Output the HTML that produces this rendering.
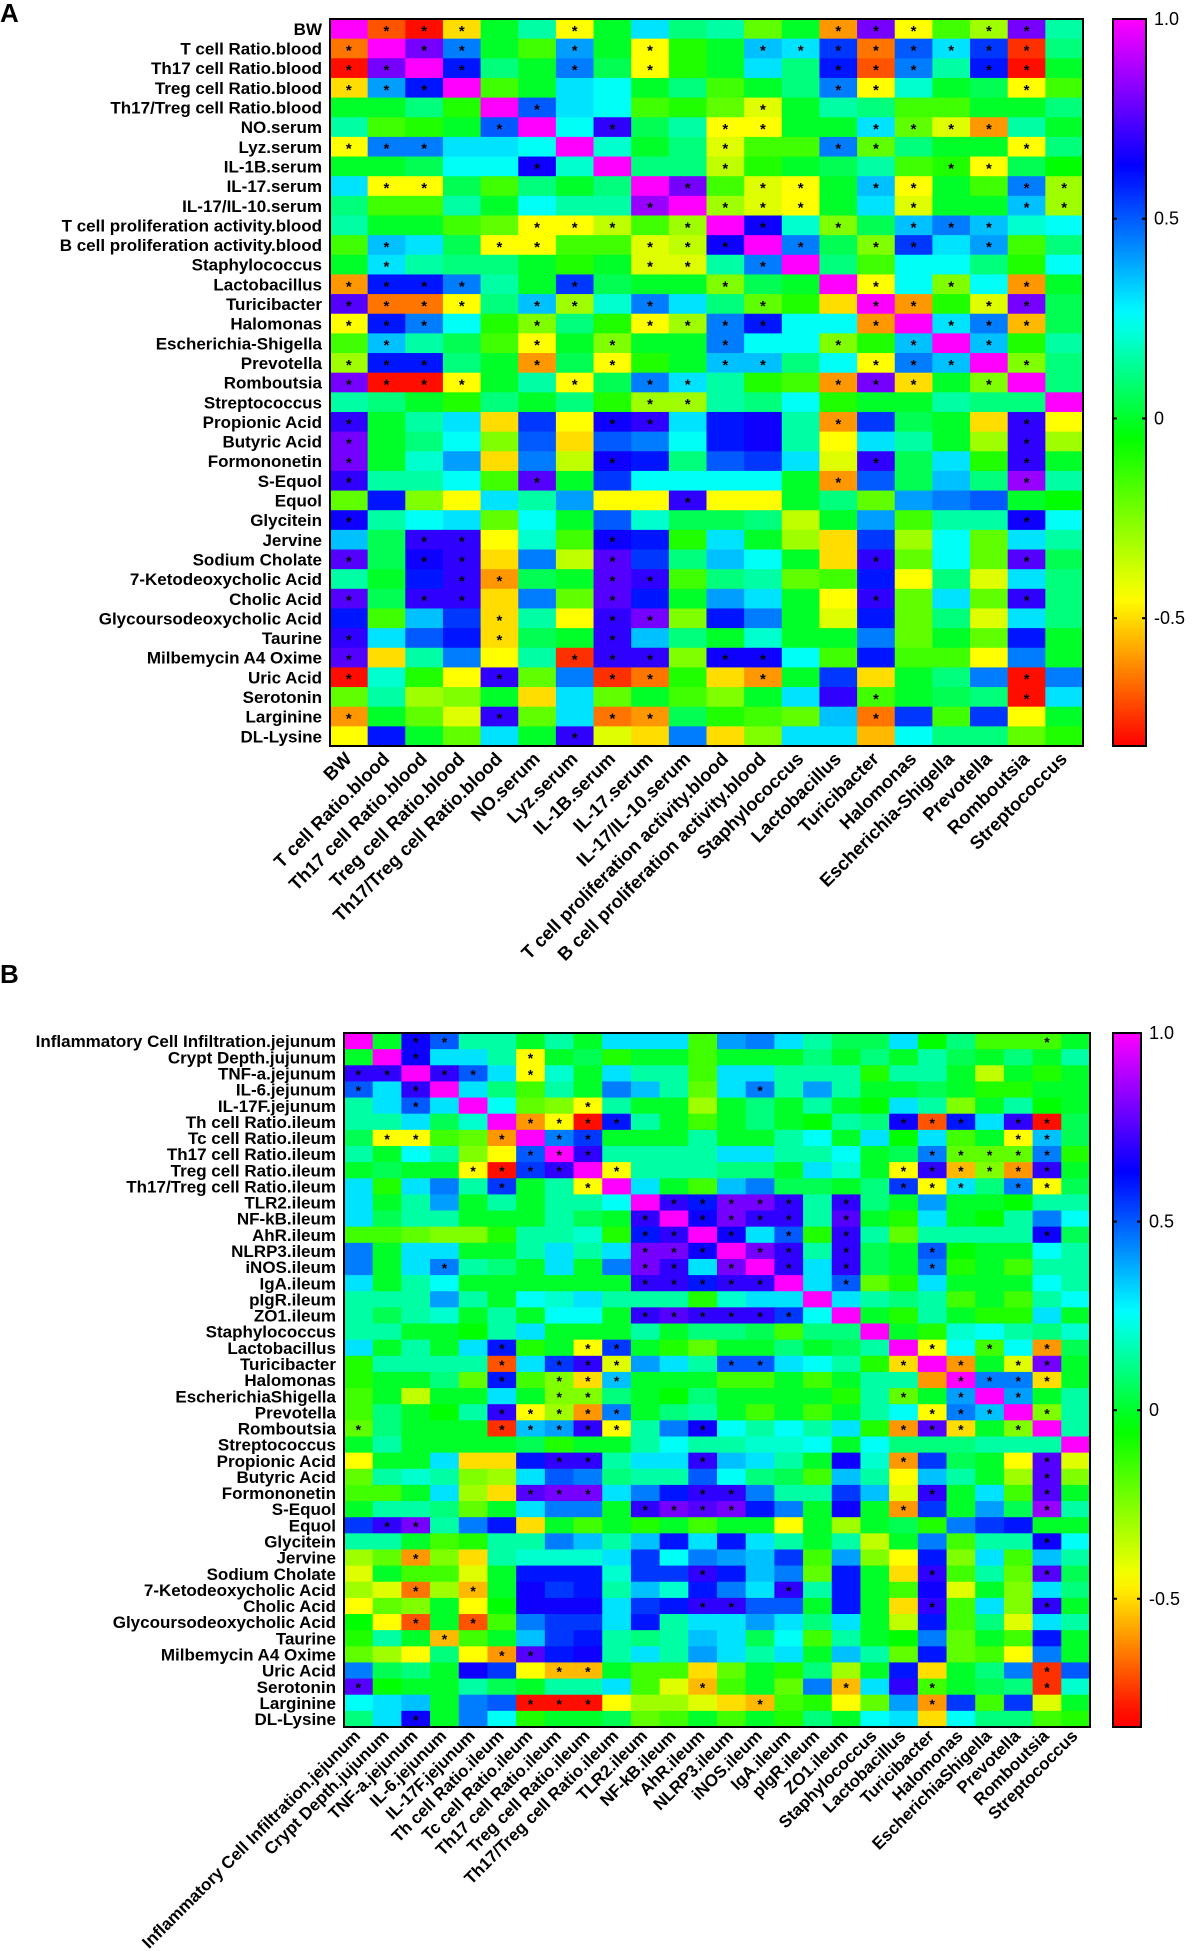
<!DOCTYPE html>
<html><head><meta charset="utf-8"><style>
html,body{margin:0;padding:0;background:#fff;}
svg{display:block;font-family:"Liberation Sans",Arial,sans-serif;}
</style></head><body>
<svg id="fig" width="1202" height="1951" viewBox="0 0 1202 1951" xmlns="http://www.w3.org/2000/svg">
<text x="0" y="22" font-size="26" font-weight="bold">A</text>
<text x="0" y="983" font-size="26" font-weight="bold">B</text>
<g id="ga"></g>
<g id="gb"></g>
</svg>
<script>
// ===== Panel A data =====
const rowsA = ["BW","T cell Ratio.blood","Th17 cell Ratio.blood","Treg cell Ratio.blood","Th17/Treg cell Ratio.blood","NO.serum","Lyz.serum","IL-1B.serum","IL-17.serum","IL-17/IL-10.serum","T cell proliferation activity.blood","B cell proliferation activity.blood","Staphylococcus","Lactobacillus","Turicibacter","Halomonas","Escherichia-Shigella","Prevotella","Romboutsia","Streptococcus","Propionic Acid","Butyric Acid","Formononetin","S-Equol","Equol","Glycitein","Jervine","Sodium Cholate","7-Ketodeoxycholic Acid","Cholic Acid","Glycoursodeoxycholic Acid","Taurine","Milbemycin A4 Oxime","Uric Acid","Serotonin","Larginine","DL-Lysine"];
const colsA = ["BW","T cell Ratio.blood","Th17 cell Ratio.blood","Treg cell Ratio.blood","Th17/Treg cell Ratio.blood","NO.serum","Lyz.serum","IL-1B.serum","IL-17.serum","IL-17/IL-10.serum","T cell proliferation activity.blood","B cell proliferation activity.blood","Staphylococcus","Lactobacillus","Turicibacter","Halomonas","Escherichia-Shigella","Prevotella","Romboutsia","Streptococcus"];
const valuesA = [
[1,-.7,-.8,-.5,0,.15,-.45,0,.3,.1,.15,-.2,0,-.6,.8,-.45,-.15,-.3,.8,.15],
[-.65,1,.8,.45,0,-.15,.4,0,-.45,-.1,0,.35,.3,.55,-.65,.5,.3,.55,-.75,.1],
[-.8,.8,1,.6,.1,0,.45,.05,-.45,-.1,0,.3,.1,.6,-.7,.45,.15,.6,-.8,0],
[-.5,.4,.6,1,-.15,0,.3,.25,0,.1,-.15,0,.1,.45,-.45,.2,0,.05,-.45,-.15],
[0,0,.1,-.1,1,.5,.3,.25,-.15,-.1,-.2,-.4,0,.15,.1,-.15,-.15,0,0,.1],
[.15,-.15,-.1,0,.5,1,.25,.7,.05,.15,-.45,-.45,0,0,.3,-.2,-.4,-.6,.15,0],
[-.45,.45,.45,.3,.3,.25,1,.2,0,.1,-.4,-.15,-.15,.45,-.2,.1,0,0,-.45,.1],
[0,0,.05,.25,.25,.65,.2,1,.1,.1,-.35,-.1,0,.05,.15,-.15,-.1,-.45,.05,-.05],
[.3,-.45,-.45,.05,-.15,.1,0,.1,1,.8,-.15,-.4,-.45,0,.35,-.45,0,-.15,.45,-.3],
[.1,-.15,-.15,.15,0,.25,.15,.15,.85,1,-.3,-.4,-.45,0,.3,-.4,0,0,.35,-.3],
[.15,0,0,-.15,-.2,-.45,-.45,-.35,-.15,-.3,1,.65,.2,-.25,.05,.35,.45,.35,.2,.25],
[-.15,.35,.3,.05,-.45,-.45,-.15,-.15,-.4,-.35,.65,1,.45,.05,-.25,.55,.3,.4,-.15,.1],
[0,.3,.15,.1,.1,0,-.1,0,-.4,-.4,.15,.45,1,.1,-.15,.25,.25,.1,-.1,.25],
[-.6,.6,.6,.45,.15,0,.55,.05,0,0,-.25,.05,0,1,-.45,.25,-.25,.25,-.6,0],
[.75,-.65,-.65,-.45,.1,.35,-.3,.2,.45,.3,.1,-.2,-.1,-.5,1,-.6,-.1,-.4,.8,.05],
[-.45,.6,.45,.25,-.1,-.25,.1,-.1,-.45,-.3,.45,.6,.25,.25,-.6,1,.3,.45,-.55,.05],
[-.15,.35,.15,.05,-.15,-.45,0,-.25,0,0,.45,.25,.25,-.25,-.1,.35,1,.35,-.1,.15],
[-.3,.6,.6,.1,0,-.6,.05,-.45,-.1,0,.35,.35,.1,.25,-.45,.45,.35,1,-.25,.1],
[.8,-.8,-.8,-.45,0,.15,-.45,.05,.45,.3,.15,-.1,-.15,-.6,.8,-.5,0,-.25,1,.1],
[.15,.1,0,-.1,.1,0,.1,-.1,-.3,-.3,.15,.1,.25,-.1,0,0,.15,.1,.1,1],
[.7,0,.15,.3,-.5,.55,-.45,.65,.7,.3,.6,.65,.15,-.6,.55,.05,0,-.5,.7,-.45],
[.8,0,.1,.25,-.25,.5,-.5,.5,.45,.25,.6,.65,.15,-.45,.3,.15,0,-.3,.7,-.3],
[.8,0,.2,.4,-.5,.45,-.35,.65,.6,.1,.5,.55,.3,-.4,.7,.05,.3,-.1,.7,0],
[.7,.15,.15,.25,-.15,.75,0,.55,.25,.25,.25,.25,0,-.6,.5,.05,.35,.1,.85,.15],
[-.2,.6,-.25,-.45,.3,.15,.4,-.45,-.45,.7,-.45,-.45,0,.1,-.2,.4,.45,.5,0,-.05],
[.65,.15,.25,.3,-.2,.25,0,.5,.2,.05,.05,.1,-.35,0,.4,-.15,.15,.15,.65,.25],
[.35,.05,.7,.7,-.45,.2,-.15,.65,.6,-.1,.3,0,-.3,-.5,.55,-.3,.25,-.2,.3,.15],
[.75,.05,.65,.7,-.5,.45,-.35,.75,.55,.1,.35,.25,0,-.5,.7,-.2,.25,-.2,.75,.05],
[.15,0,.6,.7,-.6,.05,0,.75,.7,-.15,.1,.15,-.2,-.15,.6,-.45,.1,-.4,.3,.1],
[.75,.05,.7,.7,-.5,.45,-.2,.75,.6,0,.4,.3,0,-.45,.7,-.2,.3,-.2,.7,.1],
[.6,-.15,.35,.55,-.5,.15,-.45,.7,.8,-.25,.6,.45,0,-.4,.6,-.2,.1,-.4,.3,.1],
[.7,.3,.5,.6,-.5,.05,0,.7,.35,.1,0,.2,0,0,.45,-.2,0,-.2,.6,0],
[.75,-.5,.15,.45,-.45,.15,-.75,.7,.7,-.25,.65,.65,.25,-.15,.6,-.15,-.15,-.45,.45,0],
[-.8,.2,-.1,-.45,.7,-.2,.45,-.75,-.65,-.1,-.5,-.6,0,.55,-.5,0,.1,.45,-.8,.45],
[-.2,.15,-.3,-.25,0,-.5,.3,-.2,0,-.15,-.25,0,.3,.7,-.15,0,.05,.1,-.8,.3],
[-.6,0,-.2,-.4,.7,-.2,.3,-.65,-.6,.05,-.1,-.15,-.2,.35,-.65,.55,-.15,.55,-.45,0],
[-.45,.6,0,-.2,.3,0,.7,-.4,-.5,.45,-.5,-.25,.3,.3,-.55,.25,.1,.1,-.2,-.1]
];
const starsA = [[1,2,3,6,13,14,15,17,18],[0,2,3,6,8,11,12,13,14,15,16,17,18],[0,1,3,6,8,13,14,15,17,18],[0,1,2,13,14,18],[5,11],[4,7,10,11,14,15,16,17],[0,1,2,10,13,14,18],[5,10,16,17],[1,2,9,11,12,14,15,18,19],[8,10,11,12,15,18,19],[5,6,7,9,11,13,15,16,17],[1,4,5,8,9,10,12,14,15,17],[1,8,9,11],[0,1,2,3,6,10,14,16,18],[0,1,2,3,5,6,8,11,14,15,17,18],[0,1,2,5,8,9,10,11,14,16,17,18],[1,5,7,10,13,15,17],[0,1,2,5,7,10,11,14,15,16,18],[0,1,2,3,6,8,9,13,14,15,17],[8,9],[0,7,8,13,18],[0,18],[0,7,14,18],[0,5,13,18],[9],[0,18],[2,3,7],[0,2,3,7,14,18],[3,4,7,8],[0,2,3,7,14,18],[4,7,8],[0,4,7],[0,6,7,8,10,11],[0,4,7,8,11,18],[14,18],[0,4,7,8,14],[6]];
const ticksA = [1.0,0.5,0,-0.5];
const tickLabelsA = ["1.0","0.5","0","-0.5"];

// ===== Panel B data =====
const rowsB = ["Inflammatory Cell Infiltration.jejunum","Crypt Depth.jujunum","TNF-a.jejunum","IL-6.jejunum","IL-17F.jejunum","Th cell Ratio.ileum","Tc cell Ratio.ileum","Th17 cell Ratio.ileum","Treg cell Ratio.ileum","Th17/Treg cell Ratio.ileum","TLR2.ileum","NF-kB.ileum","AhR.ileum","NLRP3.ileum","iNOS.ileum","IgA.ileum","pIgR.ileum","ZO1.ileum","Staphylococcus","Lactobacillus","Turicibacter","Halomonas","EscherichiaShigella","Prevotella","Romboutsia","Streptococcus","Propionic Acid","Butyric Acid","Formononetin","S-Equol","Equol","Glycitein","Jervine","Sodium Cholate","7-Ketodeoxycholic Acid","Cholic Acid","Glycoursodeoxycholic Acid","Taurine","Milbemycin A4 Oxime","Uric Acid","Serotonin","Larginine","DL-Lysine"];
const colsB = ["Inflammatory Cell Infiltration.jejunum","Crypt Depth.jujunum","TNF-a.jejunum","IL-6.jejunum","IL-17F.jejunum","Th cell Ratio.ileum","Tc cell Ratio.ileum","Th17 cell Ratio.ileum","Treg cell Ratio.ileum","Th17/Treg cell Ratio.ileum","TLR2.ileum","NF-kB.ileum","AhR.ileum","NLRP3.ileum","iNOS.ileum","IgA.ileum","pIgR.ileum","ZO1.ileum","Staphylococcus","Lactobacillus","Turicibacter","Halomonas","EscherichiaShigella","Prevotella","Romboutsia","Streptococcus"];
const valuesB = [
[1,0,.65,.5,.15,.15,0,.15,0,.3,.3,.3,-.15,.4,.45,.3,.15,.05,.05,.3,-.05,.1,-.15,-.15,-.15,0],
[0,1,.65,.3,.3,.15,-.45,0,.05,-.1,0,0,-.15,0,0,0,.1,0,.1,0,.15,.05,0,.1,0,.15],
[.7,.7,1,.7,.5,.3,-.45,.2,0,.3,.15,.15,-.15,.3,.3,.15,.15,.15,-.1,.15,.15,0,-.35,0,-.1,0],
[.5,.3,.7,1,.3,.1,-.15,.15,0,.45,.35,.15,-.2,.3,.45,.15,.4,.15,0,0,.05,0,-.1,-.1,0,0],
[.15,.3,.5,.3,1,.25,-.2,-.25,-.45,.15,0,0,-.3,0,.1,0,.15,0,-.05,.3,.15,-.25,0,.15,-.05,0],
[.15,.15,.3,.05,.2,1,-.6,-.45,-.8,.6,.15,0,-.15,0,.1,0,-.05,.15,.1,.65,-.7,.6,.3,.7,-.8,.05],
[.05,-.45,-.45,-.15,-.2,-.6,1,.45,.55,0,0,0,.15,0,0,.15,.25,0,.3,-.05,.3,-.15,0,-.45,.35,.05],
[.15,0,.25,.15,-.25,-.45,.5,1,.7,.15,.15,.15,.15,.3,.3,.15,.15,.25,0,.05,.45,-.2,-.2,-.2,.45,-.1],
[0,.05,0,0,-.45,-.8,.55,.7,1,-.45,.15,.15,.15,.1,.1,0,.3,.2,0,-.45,.7,-.55,-.25,-.6,.7,0],
[.3,-.1,.3,.45,.15,.55,0,.15,-.45,1,.3,0,-.15,.35,.45,.05,.05,0,.1,.55,-.45,.3,.1,.45,-.45,.05],
[.3,0,.15,.4,0,.15,0,.15,.15,.25,1,.7,.6,.8,.8,.7,.15,.7,.1,0,.4,0,0,-.05,.15,.15],
[.3,.05,.15,.15,0,0,0,.15,.05,0,.7,1,.65,.8,.7,.7,.15,.75,0,-.1,.3,0,-.05,.15,.45,.25],
[-.15,-.15,-.2,-.25,-.25,-.1,.15,.15,.2,-.1,.6,.7,1,.65,.3,.5,-.1,.7,.15,-.2,.15,.15,.15,.15,.65,.05],
[.45,0,.3,.3,0,0,.15,.3,.15,.3,.8,.8,.65,1,.8,.7,.15,.7,.05,0,.5,-.05,0,0,.25,.15],
[.45,0,.3,.45,.15,.1,0,.3,0,.45,.8,.7,.3,.8,1,.7,.3,.7,.05,0,.45,-.1,0,-.15,.15,.15],
[.3,0,.15,.25,0,0,0,0,0,0,.7,.7,.6,.7,.7,1,.3,.5,-.2,-.1,.3,0,0,0,.25,.15],
[.15,.15,.15,.4,.15,0,.25,.2,.3,.15,.15,.15,-.1,.2,.3,.3,1,.3,.15,.1,.15,-.15,0,-.15,.15,.25],
[.15,.05,.15,.2,0,.15,0,.25,.25,0,.7,.75,.7,.7,.7,.55,.25,1,0,-.1,.15,0,-.1,-.1,.3,0],
[.15,.15,0,0,-.05,.15,.3,0,0,0,.15,0,.1,.1,.05,-.15,.1,.1,1,0,-.1,.2,.25,.15,.1,.2],
[.3,0,.15,0,.3,.6,-.1,0,-.45,.55,0,-.1,-.2,0,0,.1,0,.05,.15,1,-.45,.25,-.15,.25,-.6,.05],
[-.1,.15,.15,.15,.15,-.7,.3,.55,.7,-.4,.4,.3,.15,.5,.5,.3,.25,.15,-.1,-.5,1,-.6,0,-.4,.8,0],
[-.1,0,0,.1,-.2,.6,-.15,-.25,-.5,.35,0,0,0,-.15,-.15,0,-.15,0,.15,.15,-.6,1,.45,.45,-.5,0],
[-.15,0,-.35,0,0,.3,0,-.25,-.25,.1,0,-.05,.1,0,0,0,0,-.1,.15,-.2,0,.4,1,.4,0,.15],
[-.15,.1,0,-.05,.15,.7,-.45,-.3,-.6,.45,0,.1,.15,0,-.15,0,-.15,0,.15,.25,-.45,.45,.35,1,-.25,.15],
[-.2,.1,0,0,0,-.75,.35,.4,.7,-.45,.15,.45,.65,.25,.15,.25,.15,.3,-.1,-.6,.75,-.5,0,-.25,1,.15],
[0,.15,0,0,0,0,.05,-.1,0,0,.15,.25,.15,.15,.2,.2,.25,0,.25,.1,.1,.1,.15,.15,.15,1],
[-.45,0,0,.3,-.5,-.5,.6,.7,.7,.15,.3,.3,.7,.35,.3,.15,0,.65,.2,-.6,.55,.05,0,-.45,.75,-.4],
[-.2,.15,.2,.15,-.25,-.3,.3,.5,.45,.1,.15,.15,.5,.25,.1,.05,-.15,.35,.15,-.45,.35,.15,0,-.3,.75,-.25],
[-.15,-.15,0,.3,-.3,-.5,.75,.8,.8,.3,.45,.6,.7,.7,.45,.15,.15,.55,.35,-.4,.7,0,.3,-.15,.75,0],
[0,.15,.15,.1,-.2,0,.3,.45,.45,0,.7,.8,.75,.8,.6,.45,0,.65,0,-.6,.55,0,.4,.05,.85,.15],
[.55,.7,.8,.15,.45,.6,-.5,0,-.15,0,-.1,0,-.15,0,0,-.45,0,-.3,0,.05,-.1,.45,.55,.6,0,0],
[.15,.15,0,-.15,-.1,.15,.15,.45,.35,.15,.35,.6,.3,.6,.3,.15,0,.15,-.35,0,.45,-.15,.15,.15,.65,.25],
[-.3,-.2,-.6,-.25,-.5,.15,.2,.2,.2,.3,.55,.25,.45,.4,.35,.55,-.15,.4,-.25,-.45,.6,-.25,.3,-.15,.35,.15],
[-.4,0,-.15,-.15,-.4,0,.6,.6,.6,.2,.55,.55,.7,.6,.35,.45,-.2,.6,0,-.5,.7,-.15,.15,-.2,.75,.05],
[-.3,-.4,-.65,-.3,-.55,0,.65,.55,.6,.15,.35,.2,.6,.45,.3,.7,.15,.6,0,-.15,.65,-.4,0,-.25,.3,.1],
[-.45,-.2,-.25,0,-.45,-.05,.65,.65,.65,.3,.55,.6,.7,.7,.5,.5,0,.6,0,-.5,.7,-.15,.3,-.25,.7,0],
[-.05,-.45,-.7,0,-.7,-.15,.45,.55,.55,.3,.6,.15,.3,.3,.4,.3,.1,.3,0,-.35,.6,-.15,.1,-.4,.3,.15],
[-.1,.15,0,-.55,-.15,0,.35,.55,.6,.15,.1,.15,.35,.3,.05,.25,-.15,.15,0,-.05,.45,-.2,0,-.15,.6,0],
[-.2,-.3,-.45,.1,-.45,-.6,.75,.6,.65,.15,.3,.15,.4,.3,.15,.3,0,.35,.15,-.2,.6,-.2,-.15,-.45,.45,0],
[.45,.05,.1,0,.65,.55,-.45,-.55,-.55,0,-.15,-.15,-.5,-.2,0,-.1,.1,-.3,0,.6,-.5,0,.1,.45,-.75,.5],
[.75,-.05,0,0,.15,.05,0,.15,.15,.3,-.15,-.4,-.55,-.15,0,-.2,.45,-.55,.3,.7,-.15,0,.05,.1,-.75,.2],
[.25,.3,.35,0,.45,.5,-.8,-.8,-.8,-.45,-.3,-.3,-.4,-.5,-.55,-.15,-.1,-.45,-.2,.4,-.6,.55,-.15,.55,-.4,0],
[.1,.3,.65,0,.45,.25,-.1,0,0,.05,-.2,-.15,0,-.15,0,-.1,.1,0,.25,.3,-.5,.25,.1,.1,-.15,-.1]
];
const starsB = [[2,3,24],[2,6],[0,1,3,4,6],[0,2,14],[2,8],[6,7,8,9,19,20,21,23,24],[1,2,5,7,8,23,24],[6,7,8,20,21,22,23,24],[4,5,6,7,9,19,20,21,22,23,24],[5,8,19,20,21,23,24],[11,12,13,14,15,17],[10,12,13,14,15,17],[10,11,13,15,17,24],[10,11,12,14,15,17,20],[3,10,11,13,15,17,20],[10,11,12,13,14,17],[],[10,11,12,13,14,15],[],[5,8,9,20,22,24],[5,7,8,9,13,14,19,21,23,24],[5,7,8,9,21,22,23,24],[7,8,19,21,23],[5,6,7,8,9,20,21,22,24],[0,5,6,7,8,9,12,19,20,21,23],[],[7,8,12,19,24],[24],[6,7,8,12,13,20,24],[10,11,12,13,19,24],[1,2],[24],[2],[12,20,24],[2,4,15],[12,13,20,24],[2,4],[3],[5,6],[7,8,24],[0,12,17,20,24],[6,7,8,14,20],[2]];
const ticksB = [1.0,0.5,0,-0.5];
const tickLabelsB = ["1.0","0.5","0","-0.5"];

// ===== colour scale =====
const stopV = [1.0,0.63,0.26,-0.05,-0.45,-0.82];
const stopH = [300,240,180,120,60,0];
function color(v){
  if(v>=stopV[0]) return 'hsl(300,100%,50%)';
  for(let i=0;i<stopV.length-1;i++){
    if(v<=stopV[i] && v>=stopV[i+1]){
      const t=(v-stopV[i+1])/(stopV[i]-stopV[i+1]);
      const h=stopH[i+1]+t*(stopH[i]-stopH[i+1]);
      return 'hsl('+h.toFixed(1)+',100%,50%)';
    }
  }
  return 'hsl(0,100%,50%)';
}
const NS='http://www.w3.org/2000/svg';
function mk(parent,tag,attrs,text){
  const e=document.createElementNS(NS,tag);
  for(const k in attrs) e.setAttribute(k,attrs[k]);
  if(text!==undefined) e.textContent=text;
  parent.appendChild(e);return e;
}
let gradId=0;
function drawHeatmap(g,cfg){
  const nr=cfg.rows.length,nc=cfg.cols.length;
  const cw=(cfg.x1-cfg.x0)/nc,rh=(cfg.y1-cfg.y0)/nr;
  const xs=j=>cfg.x0+j*cw, ys=i=>cfg.y0+i*rh;
  for(let i=0;i<nr;i++){
    for(let j=0;j<nc;j++){
      const r=mk(g,'rect',{x:xs(j).toFixed(2),y:ys(i).toFixed(2),width:(cw+0.6).toFixed(2),height:(rh+0.6).toFixed(2),fill:color(cfg.values[i][j])});
      
      
    }
    cfg.stars[i].forEach(j=>{
      const s=mk(g,'text',{x:(xs(j)+cw/2).toFixed(2),y:(ys(i)+rh/2+cfg.starDy).toFixed(2),'font-size':cfg.starSize,'font-weight':'bold','text-anchor':'middle',fill:'#000'},'*');
      
      
    });
    const t=mk(g,'text',{x:cfg.x0-8,y:(ys(i)+rh/2+cfg.rowFs*0.36).toFixed(2),'font-size':cfg.rowFs,'font-weight':'bold','text-anchor':'end'},cfg.rows[i]);
    
    
  }
  const fr=mk(g,'rect',{x:cfg.x0,y:cfg.y0,width:cfg.x1-cfg.x0,height:cfg.y1-cfg.y0,fill:'none',stroke:'#000','stroke-width':2});
  
  
  for(let j=0;j<nc;j++){
    const cx=xs(j)+cw/2+cfg.colDx, cy=cfg.y1+cfg.colDy;
    const t=mk(g,'text',{x:cx.toFixed(2),y:cy.toFixed(2),'font-size':cfg.colFs,'font-weight':'bold','text-anchor':'end',transform:'rotate(-45 '+cx.toFixed(2)+' '+cy.toFixed(2)+')'},cfg.cols[j]);
    
    
  }
  const id='grad'+(gradId++);
  const defs=mk(g,'defs',{});
  const lg=mk(defs,'linearGradient',{id:id,x1:0,y1:0,x2:0,y2:1});
  const span=cfg.vmax-cfg.vmin;
  for(let k=0;k<=40;k++){
    const v=cfg.vmax-span*k/40;
    mk(lg,'stop',{offset:(k/40).toFixed(3),'stop-color':color(v)});
  }
  const cb=mk(g,'rect',{x:cfg.cbx0,y:cfg.y0,width:cfg.cbx1-cfg.cbx0,height:cfg.y1-cfg.y0,fill:'url(#'+id+')',stroke:'#000','stroke-width':2});
  
  
  const vy=v=>cfg.y0+(cfg.vmax-v)/span*(cfg.y1-cfg.y0);
  cfg.ticks.forEach((v,k)=>{
    const y=vy(v);
    mk(g,'line',{x1:cfg.cbx0,x2:cfg.cbx0+4,y1:y,y2:y,stroke:'#000','stroke-width':2});
    mk(g,'line',{x1:cfg.cbx1-4,x2:cfg.cbx1,y1:y,y2:y,stroke:'#000','stroke-width':2});
    const t=mk(g,'text',{x:cfg.cbx1+8,y:(y+6).toFixed(2),'font-size':18},cfg.tickLabels[k]);
    
    
  });
}
drawHeatmap(document.getElementById('ga'),{rows:rowsA,cols:colsA,values:valuesA,stars:starsA,ticks:ticksA,tickLabels:tickLabelsA,
  x0:330,x1:1083,y0:19,y1:746,cbx0:1113,cbx1:1146,vmax:1.0,vmin:-0.82,rowFs:17,colFs:18.5,colDx:4,colDy:14,starSize:15,starDy:7});
drawHeatmap(document.getElementById('gb'),{rows:rowsB,cols:colsB,values:valuesB,stars:starsB,ticks:ticksB,tickLabels:tickLabelsB,
  x0:344,x1:1090,y0:1033,y1:1727,cbx0:1113,cbx1:1141,vmax:1.0,vmin:-0.84,rowFs:17,colFs:17,colDx:3,colDy:10,starSize:14,starDy:6});
</script>
</body></html>
